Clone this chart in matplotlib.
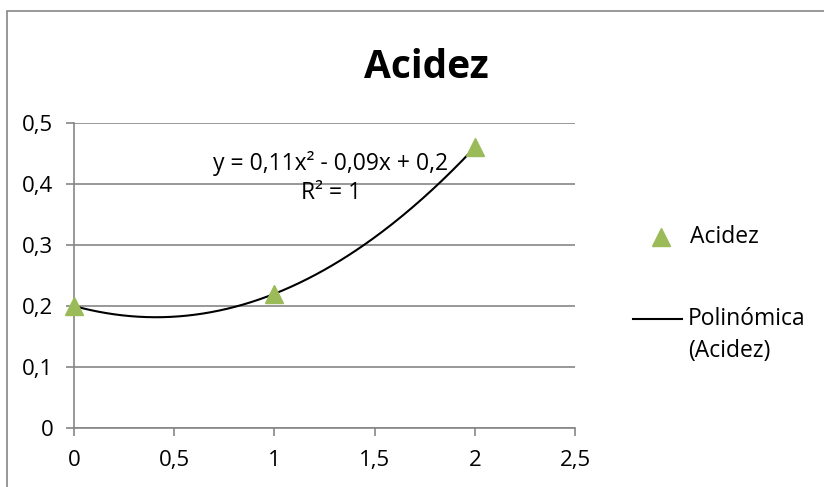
import numpy as np
import matplotlib
matplotlib.use("Agg")
import matplotlib.pyplot as plt
from matplotlib.patches import Rectangle
from matplotlib.lines import Line2D

plt.rcParams['font.family'] = ['Open Sans', 'DejaVu Sans']

x_vals = [0, 1, 2]
acidez = [0.20, 0.22, 0.46]
x_ticks = [0, 0.5, 1, 1.5, 2, 2.5]
x_tick_labels = ["0", "0,5", "1", "1,5", "2", "2,5"]
y_ticks = [0, 0.1, 0.2, 0.3, 0.4, 0.5]
y_tick_labels = ["0", "0,1", "0,2", "0,3", "0,4", "0,5"]
title = "Acidez"
equation = "y = 0,11x² - 0,09x + 0,2"
r2_text = "R² = 1"

fig = plt.figure(figsize=(8.24, 4.87), dpi=100)
W, H = 824, 487
ax = fig.add_axes([74 / W, (H - 428) / H, (575 - 74) / W, (428 - 123) / H])

grid_c = "#868686"
# Figure border
fig.patches.append(Rectangle((7 / W, -0.1), 1.2, (H - 11) / H + 0.1,
                             transform=fig.transFigure, fill=False,
                             edgecolor=grid_c, linewidth=1.2))

ax.set_xlim(0, 2.5)
ax.set_ylim(0, 0.5)
ax.set_xticks(x_ticks)
ax.set_xticklabels(x_tick_labels)
ax.set_yticks(y_ticks)
ax.set_yticklabels(y_tick_labels)
ax.grid(axis='y', color=grid_c, linewidth=1.2)
ax.set_axisbelow(True)
for s in ['top', 'right']:
    ax.spines[s].set_visible(False)
for s in ['left', 'bottom']:
    ax.spines[s].set_color(grid_c)
    ax.spines[s].set_linewidth(1.2)
ax.tick_params(axis='both', colors=grid_c, direction='out', length=6, width=1.2,
               labelsize=16, labelcolor='black')
ax.tick_params(axis='x', pad=10)
ax.tick_params(axis='y', pad=9)

# trend polynomial
coef = np.polyfit(x_vals, acidez, 2)
xs = np.linspace(min(x_vals), max(x_vals), 200)
ax.plot(xs, np.polyval(coef, xs), color='black', linewidth=1.5, zorder=3)
ax.plot(x_vals, acidez, linestyle='none', marker='^', markersize=13,
        color='#9BBB59', markeredgecolor='#9BBB59', zorder=4, clip_on=False)

fig.text(331 / W, 1 - 163 / H, equation, ha='center', va='center', fontsize=16.5)
fig.text(331 / W, 1 - 193 / H, r2_text, ha='center', va='center', fontsize=16.5)

fig.text(426 / W, 1 - 68 / H, title, ha='center', va='center', fontsize=28,
         fontweight='bold')

# legend
fig.lines.append(Line2D([661 / W], [1 - 237 / H], marker='^', markersize=13,
                        color='#9BBB59', linestyle='none', transform=fig.transFigure))
fig.text(690 / W, 1 - 237 / H, "Acidez", ha='left', va='center', fontsize=16.5)
fig.lines.append(Line2D([633 / W, 682 / W], [1 - 319 / H, 1 - 319 / H], color='black',
                        linewidth=1.5, transform=fig.transFigure))
fig.text(688 / W, 1 - 319 / H, "Polinómica", ha='left', va='center', fontsize=16.5)
fig.text(688 / W, 1 - 351 / H, "(Acidez)", ha='left', va='center', fontsize=16.5)

fig.savefig("out.png", dpi=100)
